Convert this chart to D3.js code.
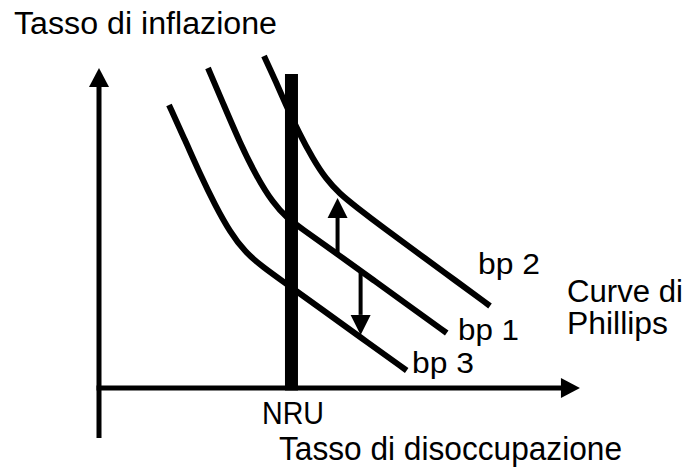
<!DOCTYPE html>
<html>
<head>
<meta charset="utf-8">
<script src="https://cdn.jsdelivr.net/npm/d3@7"></script>
<style>
  html, body { margin: 0; padding: 0; background: #fff; }
  svg { display: block; }
  text { font-family: "Liberation Sans", Arial, sans-serif; fill: #000; }
</style>
</head>
<body>
<div id="chart"></div>
<script>
// ---- Data (schematic units) ----
const curveNames = ["bp 3", "bp 1", "bp 2"];
const bp3X = [1.458, 1.792, 2.104, 2.417, 2.729, 3.042, 3.396, 3.979, 4.604, 5.438, 6.410];
const bp3Y = [8.844, 7.750, 6.688, 5.719, 4.875, 4.250, 3.797, 3.172, 2.500, 1.594, 0.547];
const bp1X = [2.271, 2.583, 2.938, 3.281, 3.625, 3.917, 4.188, 4.979, 5.729, 6.479, 7.244];
const bp1Y = [10.00, 8.906, 7.656, 6.609, 5.781, 5.313, 5.016, 4.172, 3.359, 2.547, 1.719];
const bp2X = [3.438, 3.708, 3.875, 4.167, 4.458, 4.729, 5.021, 5.333, 5.958, 6.688, 7.417, 8.146];
const bp2Y = [10.375, 9.500, 8.906, 7.969, 7.156, 6.531, 6.063, 5.688, 4.969, 4.172, 3.366, 2.563];
const nru = 4.01;           // natural rate of unemployment
const nruTop = 9.81;
const upArrow = { x: 4.97, from: 4.19, to: 5.94 };   // bp1 -> bp2
const downArrow = { x: 5.45, from: 3.60, to: 1.66 }; // bp1 -> bp3
const yAxisRange = [-1.56, 10.0];
const xAxisRange = [0, 10.02];
const titleY = "Tasso di inflazione";
const titleX = "Tasso di disoccupazione";
const nruLabel = "NRU";
const legendLines = ["Curve di", "Phillips"];

// ---- Layout ----
const W = 686, H = 474;
const svg = d3.select("#chart").append("svg")
  .attr("width", W).attr("height", H).attr("viewBox", `0 0 ${W} ${H}`);

const x = d3.scaleLinear().domain([0, 10]).range([99, 579]);
const y = d3.scaleLinear().domain([0, 10]).range([388, 68]);

// Axes (plain lines, no ticks)
svg.append("line")
  .attr("x1", x(0)).attr("x2", x(0))
  .attr("y1", y(yAxisRange[0])).attr("y2", y(yAxisRange[1]) + 16)
  .attr("stroke", "#000").attr("stroke-width", 5);
svg.append("path")
  .attr("d", `M${x(0)},${y(yAxisRange[1])} L${x(0) - 10},${y(yAxisRange[1]) + 19} L${x(0) + 10},${y(yAxisRange[1]) + 19} Z`)
  .attr("fill", "#000");

svg.append("line")
  .attr("x1", x(xAxisRange[0]) - 2.5).attr("x2", x(xAxisRange[1]) - 16)
  .attr("y1", y(0)).attr("y2", y(0))
  .attr("stroke", "#000").attr("stroke-width", 5);
svg.append("path")
  .attr("d", `M${x(xAxisRange[1])},${y(0)} L${x(xAxisRange[1]) - 19},${y(0) - 10} L${x(xAxisRange[1]) - 19},${y(0) + 10} Z`)
  .attr("fill", "#000");

// Phillips curves
const line = d3.line().x(d => x(d[0])).y(d => y(d[1])).curve(d3.curveBasis);
const curves = [
  { name: curveNames[0], pts: d3.zip(bp3X, bp3Y) },
  { name: curveNames[1], pts: d3.zip(bp1X, bp1Y) },
  { name: curveNames[2], pts: d3.zip(bp2X, bp2Y) }
];
svg.selectAll("path.pc").data(curves).enter().append("path")
  .attr("class", "pc")
  .attr("d", d => line(d.pts))
  .attr("fill", "none").attr("stroke", "#000").attr("stroke-width", 6)
  .attr("stroke-linecap", "butt").attr("stroke-linejoin", "round");

// NRU vertical bar
svg.append("line")
  .attr("x1", x(nru)).attr("x2", x(nru))
  .attr("y1", y(nruTop)).attr("y2", y(0) + 2.5)
  .attr("stroke", "#000").attr("stroke-width", 13);

// Shift arrows
function vArrow(a) {
  const dir = a.to > a.from ? -1 : 1;
  const tipY = y(a.to), baseY = tipY - dir * 20;
  svg.append("line")
    .attr("x1", x(a.x)).attr("x2", x(a.x))
    .attr("y1", y(a.from)).attr("y2", baseY)
    .attr("stroke", "#000").attr("stroke-width", 4);
  svg.append("path")
    .attr("d", `M${x(a.x)},${tipY} L${x(a.x) - 10},${baseY} L${x(a.x) + 10},${baseY} Z`)
    .attr("fill", "#000");
}
vArrow(upArrow);
vArrow(downArrow);

// Texts
function label(txt, px, py, size, len) {
  svg.append("text")
    .attr("x", px).attr("y", py)
    .attr("font-size", size)
    .attr("textLength", len).attr("lengthAdjust", "spacingAndGlyphs")
    .text(txt);
}
label(titleY, 14, 34, 31, 263);
label(titleX, 279, 460, 33, 343);
label(nruLabel, 262, 424, 32, 62);
label(legendLines[0], 567, 302, 31, 116);
label(legendLines[1], 567, 334, 31, 101);
label(curveNames[2], 478, 274, 30, 62);
label(curveNames[1], 458, 340, 30, 61);
label(curveNames[0], 412, 373, 30, 62);
</script>
</body>
</html>
